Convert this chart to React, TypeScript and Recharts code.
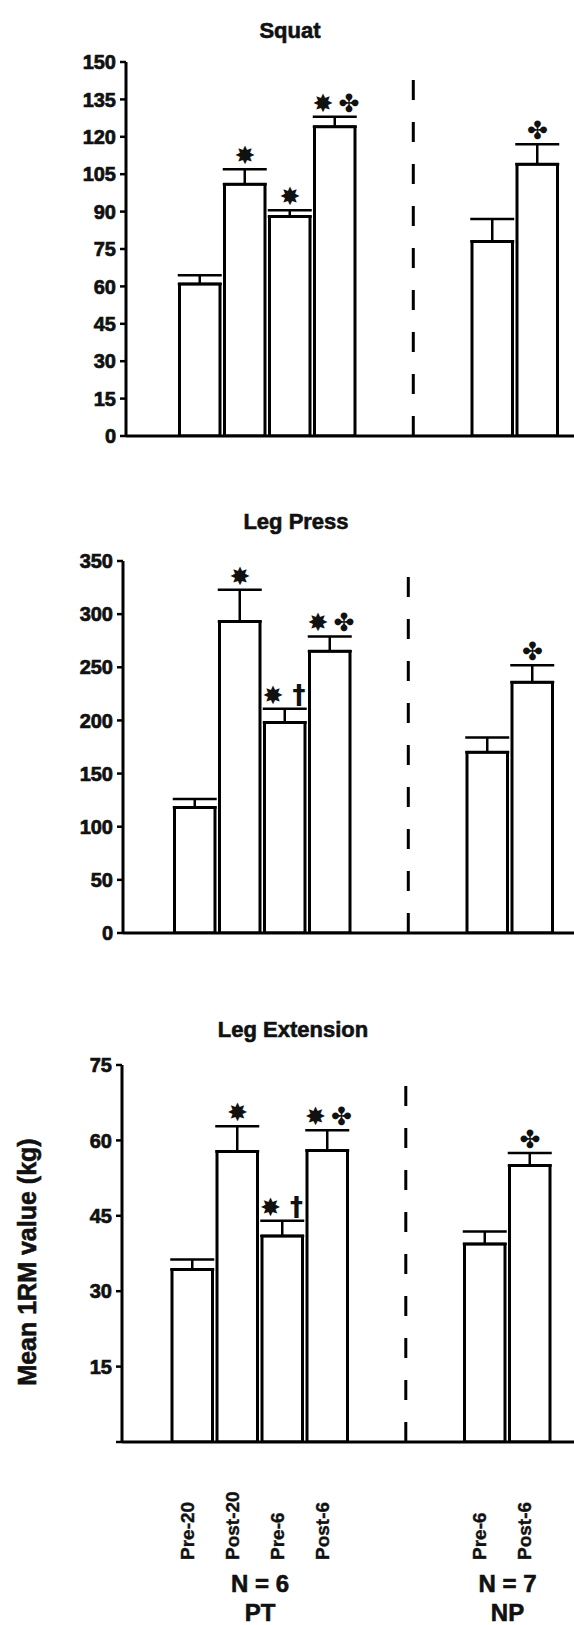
import React from 'react';
import { ComposedChart, Bar, ErrorBar, XAxis, YAxis, ReferenceLine, Scatter } from 'recharts';

// ---------- data ----------
const categories = ['Pre-20', 'Post-20', 'Pre-6', 'Post-6', 'Pre-6', 'Post-6'];
const groups = ['PT', 'PT', 'PT', 'PT', 'NP', 'NP'];
const groupLabels = [
  { group: 'PT', n: 'N = 6' },
  { group: 'NP', n: 'N = 7' },
];

const squatMeans = [61, 101, 88, 124, 78, 109];
const squatErrors = [3.5, 6, 2.5, 4, 9, 8];
const squatMarks = [[], ['✸'], ['✸'], ['✸', '✤'], [], ['✤']];
const squatTicks = [0, 15, 30, 45, 60, 75, 90, 105, 120, 135, 150];

const legPressMeans = [118, 293, 198, 265, 170, 236];
const legPressErrors = [8, 30, 13, 14, 14, 16];
const legPressMarks = [[], ['✸'], ['✸', '†'], ['✸', '✤'], [], ['✤']];
const legPressTicks = [0, 50, 100, 150, 200, 250, 300, 350];

const legExtMeans = [34.3, 57.8, 41, 58, 39.4, 55];
const legExtErrors = [2, 5, 3, 4, 2.5, 2.5];
const legExtMarks = [[], ['✸'], ['✸', '†'], ['✸', '✤'], [], ['✤']];
const legExtTicks = [0, 15, 30, 45, 60, 75];

const yAxisTitle = 'Mean 1RM value (kg)';

// ---------- layout ----------
const PAGE_W = 574;
const PAGE_H = 1625;
const FONT = '"Liberation Sans", Arial, Helvetica, sans-serif';
const SYM_FONT = '"DejaVu Sans", sans-serif';
const SLOT_PX = 45;
const NP_START_SLOT = 6.5;
const DIVIDER_SLOT = 4.74;
const INK = '#111';

function slotOf(i: number): number {
  const g = groups[i];
  const within = groups.slice(0, i).filter((x) => x === g).length;
  return g === 'PT' ? within : NP_START_SLOT + within;
}
const slots = categories.map((_, i) => slotOf(i));

function buildRows(means: number[], errors: number[], marks: string[][]) {
  return categories.map((c, i) => ({
    label: c,
    slot: slots[i],
    mean: means[i],
    err: [0, errors[i]],
    markY: means[i] + errors[i],
    marks: marks[i],
  }));
}

const XTick = (props: any) => {
  const { x, payload, startY } = props;
  const i = slots.findIndex((s) => Math.abs(s - payload.value) < 1e-6);
  if (i < 0) return null;
  return (
    <text
      transform={`translate(${x + 1},${startY}) rotate(-90)`}
      x={0}
      y={0}
      textAnchor="start"
      fontSize={19}
      fontWeight={700}
      fontFamily={FONT}
      fill={INK}
      stroke={INK}
      strokeWidth={0.4}
    >
      {categories[i]}
    </text>
  );
};

const YTick = (props: any) => {
  const { x, y, payload, hideZero } = props;
  if (hideZero && payload.value === 0) return null;
  return (
    <text
      x={x}
      y={y}
      dy="0.36em"
      textAnchor="end"
      fontSize={20}
      fontWeight={700}
      fontFamily={FONT}
      fill={INK}
      stroke={INK}
      strokeWidth={0.7}
    >
      {String(payload.value)}
    </text>
  );
};

const renderMarks = (props: any) => {
  const { cx, cy, payload } = props;
  const m: string[] = payload.marks || [];
  const offs = m.length === 1 ? [0] : [-12, 14];
  return (
    <g>
      {m.map((s, k) => (
        <text
          key={k}
          x={cx + offs[k]}
          y={cy - 5}
          textAnchor="middle"
          fontSize={s === '†' ? 26 : 25}
          fontWeight={700}
          fontFamily={SYM_FONT}
          fill={INK}
        >
          {s}
        </text>
      ))}
    </g>
  );
};

type PanelProps = {
  top: number;
  axisX: number;
  firstCenter: number;
  plotTop: number;
  plotBottom: number;
  xAxisHeight: number;
  yMax: number;
  ticks: number[];
  rows: any[];
  showLabels: boolean;
  hideZero: boolean;
  labelStartY: number;
};

function Panel(p: PanelProps) {
  const height = p.plotBottom - p.top + p.xAxisHeight;
  const xMin = -(p.firstCenter - p.axisX) / SLOT_PX;
  const xMax = xMin + (PAGE_W - p.axisX) / SLOT_PX;
  const markRows = p.rows.filter((r) => r.marks.length > 0);
  return (
    <div style={{ position: 'absolute', left: 0, top: p.top, width: PAGE_W, height }}>
      <ComposedChart
        width={PAGE_W}
        height={height}
        data={p.rows}
        margin={{ top: p.plotTop - p.top, right: 0, bottom: 0, left: 0 }}
      >
        <XAxis
          type="number"
          dataKey="slot"
          domain={[xMin, xMax]}
          allowDataOverflow
          ticks={p.showLabels ? slots : []}
          interval={0}
          height={p.xAxisHeight}
          axisLine={{ stroke: '#000', strokeWidth: 3 }}
          tickLine={false}
          tick={p.showLabels ? <XTick startY={p.labelStartY - p.top} /> : false}
        />
        <YAxis
          type="number"
          domain={[0, p.yMax]}
          allowDataOverflow
          ticks={p.ticks}
          interval={0}
          width={p.axisX}
          axisLine={{ stroke: '#000', strokeWidth: 3 }}
          tickLine={{ stroke: '#000', strokeWidth: 2.5 }}
          tickSize={6}
          tickMargin={4}
          tick={<YTick hideZero={p.hideZero} />}
        />
        <ReferenceLine
          x={DIVIDER_SLOT}
          stroke="#000"
          strokeWidth={3}
          strokeDasharray="20 22"
        />
        <Bar
          dataKey="mean"
          fill="#fff"
          stroke="#000"
          strokeWidth={3}
          barSize={SLOT_PX}
          isAnimationActive={false}
        >
          <ErrorBar dataKey="err" width={22} stroke="#000" strokeWidth={2.5} direction="y" />
        </Bar>
        <Scatter data={markRows} dataKey="markY" shape={renderMarks} isAnimationActive={false} />
      </ComposedChart>
    </div>
  );
}

export default function App() {
  const squatRows = buildRows(squatMeans, squatErrors, squatMarks);
  const legPressRows = buildRows(legPressMeans, legPressErrors, legPressMarks);
  const legExtRows = buildRows(legExtMeans, legExtErrors, legExtMarks);

  const titleFs = 22;
  const bottomFirstCenter = 192.5;
  const groupX = (g: string) => {
    const idx = groups.map((x, i) => (x === g ? i : -1)).filter((i) => i >= 0);
    const first = bottomFirstCenter + slots[idx[0]] * SLOT_PX;
    const last = bottomFirstCenter + slots[idx[idx.length - 1]] * SLOT_PX;
    return (first + last) / 2;
  };
  const heavy = { stroke: INK, strokeWidth: 0.6 };

  return (
    <div
      style={{
        position: 'absolute',
        left: 0,
        top: 0,
        width: PAGE_W,
        height: PAGE_H,
        background: '#fff',
        overflow: 'hidden',
      }}
    >
      <Panel
        top={0}
        axisX={126}
        firstCenter={200}
        plotTop={62}
        plotBottom={436}
        xAxisHeight={24}
        yMax={150}
        ticks={squatTicks}
        rows={squatRows}
        showLabels={false}
        hideZero={false}
        labelStartY={0}
      />
      <Panel
        top={470}
        axisX={123}
        firstCenter={195}
        plotTop={561}
        plotBottom={933}
        xAxisHeight={24}
        yMax={350}
        ticks={legPressTicks}
        rows={legPressRows}
        showLabels={false}
        hideZero={false}
        labelStartY={0}
      />
      <Panel
        top={980}
        axisX={122}
        firstCenter={bottomFirstCenter}
        plotTop={1065}
        plotBottom={1442}
        xAxisHeight={125}
        yMax={75}
        ticks={legExtTicks}
        rows={legExtRows}
        showLabels={true}
        hideZero={true}
        labelStartY={1560}
      />
      <svg
        width={PAGE_W}
        height={PAGE_H}
        style={{ position: 'absolute', left: 0, top: 0, pointerEvents: 'none' }}
      >
        <g fontFamily={FONT} fontWeight={700} fill={INK} textAnchor="middle" {...heavy}>
          <text x={290} y={30 + titleFs * 0.36} fontSize={titleFs}>Squat</text>
          <text x={296} y={521 + titleFs * 0.36} fontSize={titleFs}>Leg Press</text>
          <text x={293} y={1029 + titleFs * 0.36} fontSize={titleFs}>Leg Extension</text>
          <text transform={`translate(${27 + 25 * 0.36},1262) rotate(-90)`} fontSize={25}>
            {yAxisTitle}
          </text>
          {groupLabels.map((gl) => (
            <g key={gl.group}>
              <text x={groupX(gl.group)} y={1583 + 24 * 0.36} fontSize={24}>{gl.n}</text>
              <text x={groupX(gl.group)} y={1612 + 24 * 0.36} fontSize={24}>{gl.group}</text>
            </g>
          ))}
        </g>
      </svg>
    </div>
  );
}
